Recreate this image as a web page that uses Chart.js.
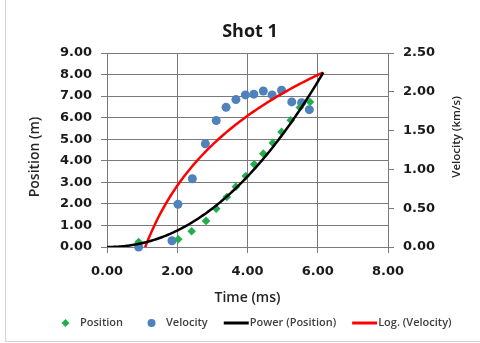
<!DOCTYPE html>
<html>
<head>
<meta charset="utf-8">
<script src="https://cdn.jsdelivr.net/npm/chart.js@4/dist/chart.umd.min.js"></script>
<style>
  html, body { margin: 0; padding: 0; background: #fff; }
  canvas { display: block; }
</style>
</head>
<body>
<canvas id="shot" width="480" height="343"></canvas>
<script>
// Shot 1 – measured position and velocity against time
const posTime  = [0.90, 2.03, 2.41, 2.82, 3.11, 3.41, 3.67, 3.95, 4.19, 4.45, 4.72, 4.97, 5.23, 5.49, 5.78];
const position = [0.23, 0.36, 0.73, 1.21, 1.78, 2.32, 2.80, 3.29, 3.84, 4.33, 4.83, 5.34, 5.88, 6.47, 6.73];

const velTime  = [0.90, 1.85, 2.02, 2.43, 2.80, 3.11, 3.39, 3.67, 3.94, 4.18, 4.45, 4.70, 4.97, 5.26, 5.54, 5.76];
const velocity = [0.00, 0.08, 0.55, 0.88, 1.33, 1.63, 1.80, 1.90, 1.96, 1.97, 2.01, 1.96, 2.02, 1.87, 1.86, 1.77];

// Axis ticks
const timeTicks     = [0, 2, 4, 6, 8];
const positionTicks = [0, 1, 2, 3, 4, 5, 6, 7, 8, 9];
const velocityTicks = [0, 0.5, 1, 1.5, 2, 2.5];

// Trendlines: power fit y = a·t^b on position, logarithmic fit y = c·ln(t) + d on velocity
const powerFit = { a: 0.178, b: 2.1, from: 0, to: 6.16 };
const logFit   = { c: 1.30, d: -0.112, from: 0.90, to: 6.16 };

const legendLabels = ['Position', 'Velocity', 'Power (Position)', 'Log. (Velocity)'];

function toPoints(xs, ys) { return xs.map((x, i) => ({ x, y: ys[i] })); }
function trace(fn, from, to, step) {
  const pts = [];
  for (let t = from; t <= to + 1e-9; t += step) pts.push({ x: t, y: fn(t) });
  return pts;
}

const GREEN = '#22ad4f', BLUE = '#4f81bd', RED = '#ff0000', BLACK = '#000000';
const GRID = '#7a7a7a';
const tickFont = { family: '"DejaVu Sans", sans-serif', size: 13, weight: 'bold' };

function fixedTicks(values) {
  return scale => { scale.ticks = values.map(v => ({ value: v })); };
}

const decor = {
  id: 'decor',
  beforeDraw(chart) {
    const ctx = chart.ctx;
    ctx.save();
    ctx.fillStyle = '#fff';
    ctx.fillRect(0, 0, chart.width, chart.height);
    ctx.strokeStyle = '#d4d4d4';
    ctx.lineWidth = 1;
    ctx.beginPath();
    ctx.moveTo(5.5, 0); ctx.lineTo(5.5, 341.5); ctx.lineTo(chart.width, 341.5);
    ctx.stroke();
    ctx.restore();
  },
  afterDraw(chart) {
    const ctx = chart.ctx, a = chart.chartArea;
    ctx.save();
    ctx.textAlign = 'center';
    ctx.textBaseline = 'middle';
    ctx.fillStyle = '#1a1a1a';
    ctx.font = '700 18px "Open Sans"';
    ctx.fillText('Shot 1', 250, 32);

    ctx.fillStyle = '#262626';
    ctx.font = '600 14px "Open Sans"';
    ctx.fillText('Time (ms)', (a.left + a.right) / 2, 298);

    ctx.save();
    ctx.translate(35, 157);
    ctx.rotate(-Math.PI / 2);
    ctx.fillText('Position (m)', 0, 0);
    ctx.restore();

    ctx.save();
    ctx.font = '600 11.5px "Open Sans"';
    ctx.translate(457, 137);
    ctx.rotate(-Math.PI / 2);
    ctx.fillText('Velocity (km/s)', 0, 0);
    ctx.restore();

    // Legend row
    const ds = chart.data.datasets;
    ctx.font = '600 11px "Open Sans"';
    ctx.textAlign = 'left';
    const y = 323;
    let x = 53;
    legendLabels.forEach((label, i) => {
      const d = ds[i];
      const cx = x + 12.5;
      if (i === 0) {
        const r = 4;
        ctx.fillStyle = d.backgroundColor;
        ctx.beginPath();
        ctx.moveTo(cx, y - r); ctx.lineTo(cx + r, y); ctx.lineTo(cx, y + r); ctx.lineTo(cx - r, y);
        ctx.closePath(); ctx.fill();
      } else if (i === 1) {
        ctx.fillStyle = d.backgroundColor;
        ctx.beginPath(); ctx.arc(cx, y, 4, 0, Math.PI * 2); ctx.fill();
      } else {
        ctx.strokeStyle = d.borderColor;
        ctx.lineWidth = 3;
        ctx.beginPath(); ctx.moveTo(x, y); ctx.lineTo(x + 25, y); ctx.stroke();
      }
      ctx.fillStyle = '#404040';
      const tx = x + 26 + (i < 2 ? 1 : 0);
      ctx.fillText(label, tx, y);
      x = tx + ctx.measureText(label).width + 16;
    });
    ctx.restore();
  }
};

new Chart(document.getElementById('shot'), {
  type: 'scatter',
  data: {
    datasets: [
      {
        label: legendLabels[0], data: toPoints(posTime, position), yAxisID: 'y',
        pointStyle: 'rectRot', pointRadius: 4.3, backgroundColor: GREEN, borderColor: GREEN,
        borderWidth: 0, showLine: false, clip: false, order: 2
      },
      {
        label: legendLabels[1], data: toPoints(velTime, velocity), yAxisID: 'y2',
        pointStyle: 'circle', pointRadius: 4.5, backgroundColor: BLUE, borderColor: BLUE,
        borderWidth: 0, showLine: false, clip: false, order: 2
      },
      {
        label: legendLabels[2], yAxisID: 'y',
        data: trace(t => powerFit.a * Math.pow(t, powerFit.b), powerFit.from, powerFit.to, 0.04),
        showLine: true, borderColor: BLACK, backgroundColor: BLACK, borderWidth: 2.5,
        pointRadius: 0, tension: 0, clip: 0, order: 1
      },
      {
        label: legendLabels[3], yAxisID: 'y2',
        data: trace(t => logFit.c * Math.log(t) + logFit.d, logFit.from, logFit.to, 0.04),
        showLine: true, borderColor: RED, backgroundColor: RED, borderWidth: 2.5,
        pointRadius: 0, tension: 0, clip: 0, order: 1
      }
    ]
  },
  options: {
    responsive: false,
    animation: false,
    devicePixelRatio: 1,
    layout: { padding: { top: 53, left: 0, right: 0, bottom: 0 } },
    plugins: { legend: { display: false }, title: { display: false }, tooltip: { enabled: false } },
    scales: {
      x: {
        type: 'linear', min: 0, max: 8,
        afterBuildTicks: fixedTicks(timeTicks),
        afterFit: s => { s.height = 96; },
        grid: { color: GRID, lineWidth: 1, tickLength: 6, tickColor: GRID },
        border: { color: GRID, width: 1 },
        ticks: { font: tickFont, color: '#1a1a1a', padding: 11, maxRotation: 0,
                 callback: v => Number(v).toFixed(2) }
      },
      y: {
        type: 'linear', position: 'left', min: 0, max: 9,
        afterBuildTicks: fixedTicks(positionTicks),
        afterFit: s => { s.width = 107; },
        grid: { color: GRID, lineWidth: 1, tickLength: 6, tickColor: GRID },
        border: { color: GRID, width: 1 },
        ticks: { font: tickFont, color: '#1a1a1a', padding: 9,
                 callback: v => Number(v).toFixed(2) }
      },
      y2: {
        type: 'linear', position: 'right', min: 0, max: 2.5,
        afterBuildTicks: fixedTicks(velocityTicks),
        afterFit: s => { s.width = 92; },
        grid: { drawOnChartArea: false, tickLength: 6, tickColor: GRID, color: GRID },
        border: { color: GRID, width: 1 },
        ticks: { font: tickFont, color: '#1a1a1a', padding: 9,
                 callback: v => Number(v).toFixed(2) }
      }
    }
  },
  plugins: [decor]
});
</script>
</body>
</html>
